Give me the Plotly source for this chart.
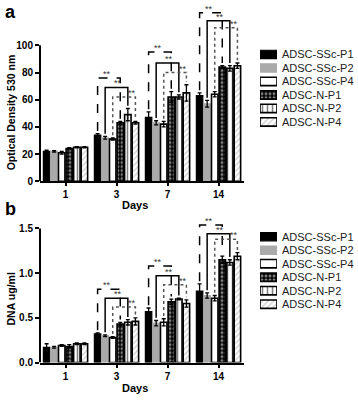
import plotly.graph_objects as go

days = ["1", "3", "7", "14"]
series = ["ADSC-SSc-P1", "ADSC-SSc-P2", "ADSC-SSc-P4", "ADSC-N-P1", "ADSC-N-P2", "ADSC-N-P4"]

# Panel a: Optical Density 530 nm
od_ssc_p1 = [22, 34, 47, 63]
od_ssc_p2 = [22, 32, 43, 57]
od_ssc_p4 = [21, 31, 42, 64]
od_n_p1 = [24, 43, 62, 84]
od_n_p2 = [25, 49, 62, 83]
od_n_p4 = [25, 43, 65, 85]
od_err_ssc_p1 = [0.8, 1.0, 4.0, 2.0]
od_err_ssc_p2 = [0.5, 1.0, 1.5, 2.5]
od_err_ssc_p4 = [1.0, 0.8, 2.0, 2.0]
od_err_n_p1 = [0.8, 1.0, 4.0, 1.0]
od_err_n_p2 = [0.5, 4.5, 1.5, 2.0]
od_err_n_p4 = [0.5, 1.0, 6.0, 2.0]

# Panel b: DNA ug/ml
dna_ssc_p1 = [0.17, 0.32, 0.57, 0.80]
dna_ssc_p2 = [0.17, 0.30, 0.44, 0.75]
dna_ssc_p4 = [0.19, 0.28, 0.45, 0.72]
dna_n_p1 = [0.18, 0.43, 0.68, 1.15]
dna_n_p2 = [0.21, 0.45, 0.71, 1.12]
dna_n_p4 = [0.21, 0.46, 0.66, 1.19]
dna_err_ssc_p1 = [0.04, 0.01, 0.04, 0.08]
dna_err_ssc_p2 = [0.01, 0.01, 0.03, 0.03]
dna_err_ssc_p4 = [0.01, 0.01, 0.04, 0.03]
dna_err_n_p1 = [0.02, 0.02, 0.03, 0.04]
dna_err_n_p2 = [0.01, 0.03, 0.01, 0.03]
dna_err_n_p4 = [0.01, 0.04, 0.04, 0.04]

# Significance bracket heights (per day; None = no bracket)
od_sig_dash = [None, 76, 95, 124]
od_sig_solid = [None, 69, 87, 118]
od_sig_dot = [None, 62, 80, 113]
dna_sig_dash = [None, 0.82, 1.08, 1.54]
dna_sig_solid = [None, 0.72, 0.97, 1.44]
dna_sig_dot = [None, 0.62, 0.87, 1.38]
sig_label = "**"

od_tick_vals = [0, 20, 40, 60, 80, 100]
dna_tick_vals = [0, 0.5, 1.0, 1.5]
dna_tick_text = ["0.0", "0.5", "1.0", "1.5"]

W, H = 358, 402
FONT = "Liberation Sans"


def px_y(p):
    return 1 - p / H


def px_x(p):
    return p / W


BARGAP = 0.11
N = len(series)


def bar_x(c, k):
    slot = (1 - BARGAP) / N
    return c - (1 - BARGAP) / 2 + (k + 0.5) * slot


styles = [
    dict(color="black", line=dict(color="black", width=1.2)),
    dict(color="#aaaaaa", line=dict(color="#aaaaaa", width=1.2)),
    dict(color="white", line=dict(color="black", width=1.6)),
    dict(color="black", line=dict(color="black", width=1.6),
         pattern=dict(shape=".", fgcolor="white", bgcolor="black", size=4, solidity=0.45)),
    dict(color="white", line=dict(color="black", width=1.6),
         pattern=dict(shape="|", fgcolor="black", bgcolor="white", size=5, solidity=0.3)),
    dict(color="white", line=dict(color="black", width=1.6),
         pattern=dict(shape="/", fgcolor="#9a9a9a", bgcolor="white", size=4, solidity=0.3)),
]

od_vals = [od_ssc_p1, od_ssc_p2, od_ssc_p4, od_n_p1, od_n_p2, od_n_p4]
od_errs = [od_err_ssc_p1, od_err_ssc_p2, od_err_ssc_p4, od_err_n_p1, od_err_n_p2, od_err_n_p4]
dna_vals = [dna_ssc_p1, dna_ssc_p2, dna_ssc_p4, dna_n_p1, dna_n_p2, dna_n_p4]
dna_errs = [dna_err_ssc_p1, dna_err_ssc_p2, dna_err_ssc_p4, dna_err_n_p1, dna_err_n_p2, dna_err_n_p4]

fig = go.Figure()

for (vals, errs, xa, ya) in [(od_vals, od_errs, "x", "y"), (dna_vals, dna_errs, "x2", "y2")]:
    for k, name in enumerate(series):
        fig.add_trace(go.Bar(
            x=days, y=vals[k], name=name, xaxis=xa, yaxis=ya,
            marker=styles[k], showlegend=False,
            error_y=dict(type="data", array=errs[k], color="black", thickness=1.3, width=2),
        ))

# Manual legends (swatches on hidden axes, labels as category tick labels)
for xa, ya in [("x3", "y3"), ("x4", "y4")]:
    for k, name in enumerate(series):
        fig.add_trace(go.Bar(
            y=[name], x=[1], orientation="h", xaxis=xa, yaxis=ya,
            marker=styles[k], showlegend=False, width=0.62, offset=-0.31,
            hoverinfo="skip",
        ))

# Significance brackets
shapes = []
annotations = []
pairs = [(0, 3), (1, 4), (2, 5)]
for (vals, errs, levels_all, xref, yref, pad) in [
    (od_vals, od_errs, (od_sig_dash, od_sig_solid, od_sig_dot), "x", "y", 2.0),
    (dna_vals, dna_errs, (dna_sig_dash, dna_sig_solid, dna_sig_dot), "x2", "y2", 0.03),
]:
    for pi, (i, j) in enumerate(pairs):
        levels = levels_all[pi]
        dash = ["dash", "solid", "dot"][pi]
        col = ["black", "black", "#555555"][pi]
        for c in range(len(days)):
            lvl = levels[c]
            if lvl is None:
                continue
            xl = bar_x(c, i)
            xr = bar_x(c, j)
            yl = vals[i][c] + errs[i][c] + pad
            yr = vals[j][c] + errs[j][c] + pad
            path = f"M{xl},{yl} L{xl},{lvl} L{xr},{lvl} L{xr},{yr}"
            shapes.append(dict(type="path", path=path, xref=xref, yref=yref,
                               line=dict(color=col, width=1.5, dash=dash)))
            tx = [xl + 0.4 * (xr - xl), xl + 0.55 * (xr - xl), xl + 0.85 * (xr - xl)][pi]
            annotations.append(dict(text=sig_label, x=tx, y=lvl, xref=xref, yref=yref,
                                    showarrow=False, yanchor="bottom", yshift=-3,
                                    font=dict(family=FONT, size=9, color="#333333")))

# y-axis lines only up to top tick
shapes.append(dict(type="line", xref="x domain", yref="y", x0=0, x1=0, y0=0, y1=od_tick_vals[-1],
                   line=dict(color="black", width=2)))
shapes.append(dict(type="line", xref="x2 domain", yref="y2", x0=0, x1=0, y0=0, y1=dna_tick_vals[-1],
                   line=dict(color="black", width=2)))

# Texts
bold = dict(family=FONT, weight="bold", color="black")
annotations += [
    dict(text="a", x=px_x(3), y=px_y(0), xref="paper", yref="paper", xanchor="left", yanchor="top",
         showarrow=False, font=dict(size=18, **bold)),
    dict(text="b", x=px_x(3), y=px_y(200), xref="paper", yref="paper", xanchor="left", yanchor="top",
         showarrow=False, font=dict(size=18, **bold)),
    dict(text="Optical Density 530 nm", x=px_x(11), y=px_y(114), xref="paper", yref="paper",
         xanchor="center", yanchor="middle",
         textangle=-90, showarrow=False, font=dict(size=10.5, **bold)),
    dict(text="DNA ug/ml", x=px_x(11), y=px_y(304), xref="paper", yref="paper",
         xanchor="center", yanchor="middle",
         textangle=-90, showarrow=False, font=dict(size=10.5, **bold)),
    dict(text="Days", x=px_x(135), y=px_y(208), xref="paper", yref="paper",
         xanchor="center", yanchor="middle",
         showarrow=False, font=dict(size=11, **bold)),
    dict(text="Days", x=px_x(135), y=px_y(394), xref="paper", yref="paper",
         xanchor="center", yanchor="middle",
         showarrow=False, font=dict(size=11, **bold)),
]

xdom = [px_x(40), px_x(244)]
common_x = dict(type="category", showline=True, linecolor="black", linewidth=2, ticks="outside",
                ticklen=3, tickwidth=1.5, tickcolor="black", showgrid=False, zeroline=False,
                tickfont=dict(size=10, **bold), range=[-0.5, 3.5])
common_y = dict(showline=False, ticks="outside", ticklen=4, tickwidth=1.5, tickcolor="black",
                showgrid=False, zeroline=False, tickfont=dict(size=10, **bold))

leg_x = dict(domain=[px_x(260), px_x(277)], range=[0, 1], visible=False, fixedrange=True)
leg_y = dict(type="category", categoryorder="array", categoryarray=series, range=[5.5, -0.5],
             side="right", showline=False, showgrid=False, zeroline=False, ticks="",
             ticklabelstandoff=4, tickfont=dict(family=FONT, size=11, color="#222222"))

fig.update_layout(
    width=W, height=H, margin=dict(l=0, r=0, t=0, b=0),
    paper_bgcolor="white", plot_bgcolor="white",
    barmode="group", bargap=BARGAP, bargroupgap=0.15,
    xaxis=dict(domain=xdom, anchor="y", **common_x),
    yaxis=dict(domain=[px_y(184), px_y(4.6)], anchor="x", range=[0, 130],
               tickvals=od_tick_vals, **common_y),
    xaxis2=dict(domain=xdom, anchor="y2", **common_x),
    yaxis2=dict(domain=[px_y(368), px_y(213.8)], anchor="x2", range=[0, 1.7],
                tickvals=dna_tick_vals, ticktext=dna_tick_text, **common_y),
    xaxis3=dict(anchor="y3", **leg_x),
    yaxis3=dict(domain=[px_y(130.6), px_y(48.4)], anchor="x3", **leg_y),
    xaxis4=dict(anchor="y4", **leg_x),
    yaxis4=dict(domain=[px_y(315.6), px_y(233.4)], anchor="x4", **leg_y),
    shapes=shapes, annotations=annotations,
    font=dict(family=FONT, color="black"),
)

fig.write_html(
    "out.html",
    config={"displayModeBar": False},
    post_script="document.body.style.margin='0';document.body.style.overflow='hidden';",
)
